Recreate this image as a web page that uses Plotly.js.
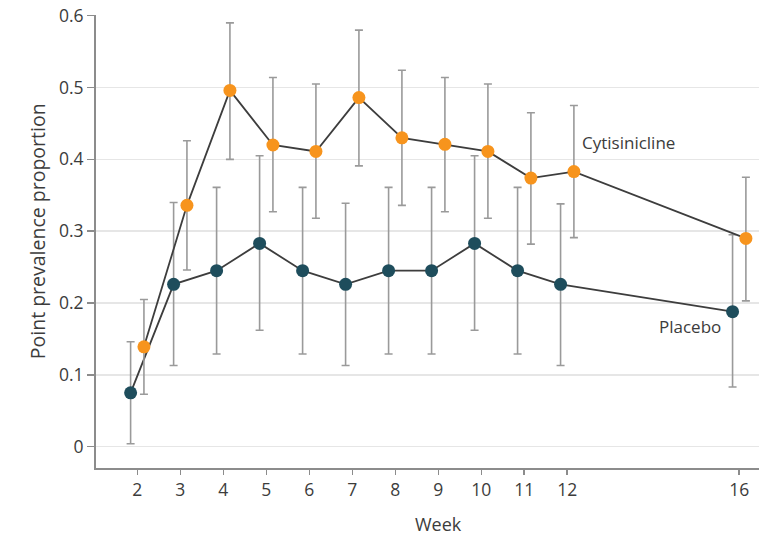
<!DOCTYPE html>
<html>
<head>
<meta charset="utf-8">
<script src="https://cdn.plot.ly/plotly-3.0.1.min.js"></script>
<style>html,body{margin:0;padding:0;background:#fff;}#chart{width:770px;height:536px;}</style>
</head>
<body>
<div id="chart"></div>
<script>
// Data
var weeks = [2, 3, 4, 5, 6, 7, 8, 9, 10, 11, 12, 16];
var tickLabels = ["2", "3", "4", "5", "6", "7", "8", "9", "10", "11", "12", "16"];
var yTickVals = [0, 0.1, 0.2, 0.3, 0.4, 0.5, 0.6];
var yTickLabels = ["0", "0.1", "0.2", "0.3", "0.4", "0.5", "0.6"];

var placebo      = [0.075, 0.226, 0.245, 0.283, 0.245, 0.226, 0.245, 0.245, 0.283, 0.245, 0.226, 0.188];
var placeboLow   = [0.004, 0.113, 0.129, 0.162, 0.129, 0.113, 0.129, 0.129, 0.162, 0.129, 0.113, 0.083];
var placeboHigh  = [0.146, 0.340, 0.361, 0.405, 0.361, 0.339, 0.361, 0.361, 0.405, 0.361, 0.338, 0.295];

var cytisinicline     = [0.139, 0.336, 0.496, 0.420, 0.411, 0.486, 0.430, 0.421, 0.411, 0.374, 0.383, 0.290];
var cytisiniclineLow  = [0.073, 0.246, 0.400, 0.327, 0.318, 0.391, 0.336, 0.327, 0.318, 0.282, 0.291, 0.203];
var cytisiniclineHigh = [0.205, 0.426, 0.590, 0.514, 0.505, 0.580, 0.524, 0.514, 0.505, 0.465, 0.475, 0.375];

var dodge = 0.155;
var FONT = "'Open Sans', 'Noto Sans', sans-serif";
var TXT = '#3c3c3c';

function mk(vals, lo, hi, shift, color, name) {
  return {
    type: 'scatter',
    mode: 'lines+markers',
    name: name,
    x: weeks.map(function (w) { return w + shift; }),
    y: vals,
    line: {color: '#3d3d3d', width: 1.8},
    marker: {color: color, size: 13},
    error_y: {
      type: 'data',
      symmetric: false,
      array: hi.map(function (h, i) { return h - vals[i]; }),
      arrayminus: lo.map(function (l, i) { return vals[i] - l; }),
      color: '#9a9a9a',
      thickness: 1.6,
      width: 4
    },
    hoverinfo: 'x+y'
  };
}

var traces = [
  mk(placebo, placeboLow, placeboHigh, -dodge, '#1e4d5c', 'Placebo'),
  mk(cytisinicline, cytisiniclineLow, cytisiniclineHigh, dodge, '#f7941d', 'Cytisinicline')
];

var layout = {
  width: 770,
  height: 536,
  margin: {l: 96, r: 11, t: 15, b: 68},
  paper_bgcolor: '#ffffff',
  plot_bgcolor: '#ffffff',
  showlegend: false,
  font: {family: FONT, size: 17, color: TXT},
  xaxis: {
    range: [1.04, 16.46],
    tickvals: weeks,
    ticktext: tickLabels,
    showgrid: false,
    zeroline: false,
    showline: true,
    linecolor: '#8c8c8c',
    linewidth: 2,
    ticks: 'outside',
    ticklen: 5,
    tickcolor: '#8c8c8c',
    tickwidth: 1.5,
    tickfont: {family: FONT, size: 17.5, color: TXT}
  },
  yaxis: {
    range: [-0.0297, 0.601],
    tickvals: yTickVals,
    ticktext: yTickLabels,
    showgrid: true,
    gridcolor: '#e6e6e6',
    gridwidth: 1.5,
    zeroline: false,
    showline: true,
    linecolor: '#8c8c8c',
    linewidth: 2,
    ticks: 'outside',
    ticklen: 7,
    tickcolor: '#8c8c8c',
    tickwidth: 1.5,
    tickfont: {family: FONT, size: 17.5, color: TXT}
  },
  annotations: [
    {
      xref: 'paper', yref: 'y', x: 0, y: 0.3, xshift: -59,
      text: 'Point prevalence proportion', textangle: -90,
      showarrow: false, font: {family: FONT, size: 19.5, color: TXT},
      xanchor: 'center', yanchor: 'middle'
    },
    {
      xref: 'x', yref: 'paper', x: 9.0, y: 0, yshift: -56,
      text: 'Week', showarrow: false, xanchor: 'center', yanchor: 'middle',
      font: {family: FONT, size: 18, color: TXT}
    },
    {
      xref: 'x', yref: 'y', x: 12.29, y: 0.4235,
      text: 'Cytisinicline', showarrow: false, xanchor: 'left', yanchor: 'middle',
      font: {family: FONT, size: 17, color: TXT}
    },
    {
      xref: 'x', yref: 'y', x: 15.62, y: 0.168,
      text: 'Placebo', showarrow: false, xanchor: 'right', yanchor: 'middle',
      font: {family: FONT, size: 17, color: TXT}
    }
  ]
};

Plotly.newPlot('chart', traces, layout, {displayModeBar: false, staticPlot: true});
</script>
</body>
</html>
